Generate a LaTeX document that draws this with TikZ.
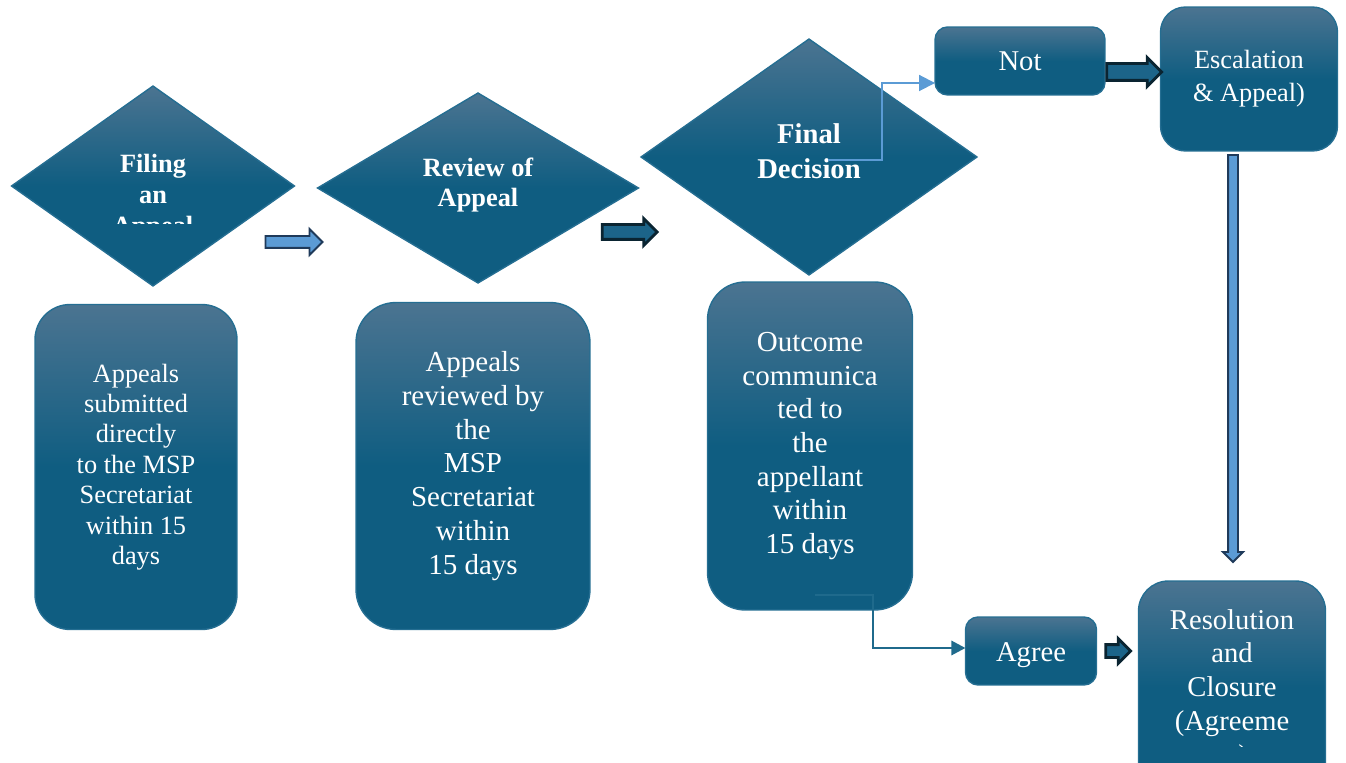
\documentclass[tikz,border=0pt]{standalone}
\usepackage{fontspec}
\setmainfont{Liberation Serif}
\usetikzlibrary{shapes.geometric,shapes.arrows,arrows.meta,calc}
\definecolor{boxtop}{HTML}{4B7491}
\definecolor{boxbot}{HTML}{0F5D81}
\definecolor{boxline}{HTML}{256E92}
\definecolor{lightfill}{HTML}{5B9BD5}
\definecolor{navyline}{HTML}{1F3A5A}
\definecolor{darkfill}{HTML}{1C6489}
\definecolor{darkline}{HTML}{0A2431}
\definecolor{tealline}{HTML}{1F6A8C}
\begin{document}
\begin{tikzpicture}[x=0.02cm,y=-0.02cm,inner sep=0pt,outer sep=0pt,
flowshade/.style={top color=boxtop,bottom color=boxbot,middle color=boxbot,draw=boxline,line width=0.8pt},
flowdiamond/.style={flowshade,diamond},
flowbox/.style={flowshade,rectangle,rounded corners=#1,align=center,text=white},
labeltxt/.style={align=center,text=white,font=\bfseries\fontsize{15}{17.6}\selectfont},
fatlight/.style={single arrow,draw=navyline,fill=lightfill,line width=1.1pt},
fatdark/.style={single arrow,draw=darkline,fill=darkfill,line width=1.6pt}]
\clip (0,0) rectangle (1346,763);
% decisions
\node[flowdiamond,minimum width=5.66cm,minimum height=4cm] (filing) at (153,186) {};
\node[flowdiamond,minimum width=6.42cm,minimum height=3.8cm] (review) at (478,188) {};
\node[flowdiamond,minimum width=6.72cm,minimum height=4.72cm] (decision) at (809,157) {};
\begin{scope}
\clip (12,120) rectangle (295,224);
\node[labeltxt] (filingtxt) at (153,197) {Filing\\an\\Appeal};
\end{scope}
\node[labeltxt] (reviewtxt) at (478,185) {Review of\\Appeal};
\node[labeltxt,font=\bfseries\fontsize{16.3}{19.8}\selectfont] (decisiontxt) at (809,151) {Final\\Decision};
% steps
\node[flowbox=0.7cm,minimum width=4.04cm,minimum height=6.5cm,font=\fontsize{15}{17.3}\selectfont] (submit) at (136,467)
  {Appeals\\submitted\\directly\\to the MSP\\Secretariat\\within 15\\days};
\node[flowbox=0.8cm,minimum width=4.68cm,minimum height=6.54cm,font=\fontsize{16.5}{19.2}\selectfont] (reviewed) at (473,466)
  {Appeals\\reviewed by\\the\\MSP\\Secretariat\\within\\15 days};
\node[flowbox=0.75cm,minimum width=4.1cm,minimum height=6.56cm,font=\fontsize{16.5}{19.2}\selectfont] (outcome) at (810,446)
  {Outcome\\communica\\ted to\\the\\appellant\\within\\15 days};
\node[flowbox=0.25cm,minimum width=3.4cm,minimum height=1.36cm,font=\fontsize{16.3}{19}\selectfont] (notbox) at (1020,61) {Not};
\node[flowbox=0.5cm,minimum width=3.54cm,minimum height=2.88cm,font=\fontsize{15}{18.7}\selectfont] (escalate) at (1249,79)
  {Escalation\\\& Appeal)};
\node[flowbox=0.25cm,minimum width=2.62cm,minimum height=1.36cm,font=\fontsize{16.3}{19}\selectfont] (agree) at (1031,651) {\\[-0.12cm]Agree};
\node[flowbox=0.6cm,minimum width=3.74cm,minimum height=4.24cm] (resolve) at (1232,687) {};
\begin{scope}
\clip (1139,590) rectangle (1326,746);
\node[align=center,text=white,font=\fontsize{16.3}{19.3}\selectfont] (resolvetxt) at (1232,690)
  {Resolution\\and\\Closure\\(Agreeme\\nt)};
\end{scope}
% block arrows
\node[fatlight,minimum height=1.14cm,inner ysep=0.1cm,single arrow head extend=0.14cm] (fat1) at (291,242) {};
\node[fatdark,minimum height=1.1cm,inner ysep=0.12cm,single arrow head extend=0.12cm] (fat2) at (626,232) {};
\node[fatdark,minimum height=1.1cm,inner ysep=0.14cm,single arrow head extend=0.12cm] (fat3) at (1130,72) {};
\node[fatdark,minimum height=0.5cm,inner ysep=0.1cm,single arrow head extend=0.12cm] (fat4) at (1115,651) {};
\node[fatlight,rotate=-90,minimum height=8.14cm,inner ysep=0.08cm,single arrow head extend=0.1cm] (fat5) at (1233,356) {};
% elbow connectors
\coordinate (decout) at (828,160);
\coordinate (outtap) at (815,595);
\draw[lightfill,line width=1.1pt,-{Triangle[length=9pt,width=9pt]}] (decout) -- ++(54,0) |- ($(notbox.west)+(0,22)$);
\draw[tealline,line width=1.6pt,-{Triangle[length=8pt,width=8pt]}] (outtap) -- ++(58,0) |- ($(agree.west)+(0,-3)$);
\end{tikzpicture}
\end{document}
